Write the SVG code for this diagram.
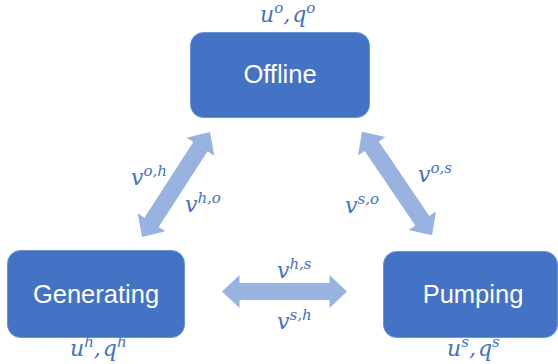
<svg xmlns="http://www.w3.org/2000/svg" width="558" height="364" viewBox="0 0 558 364">
<style>
.box{fill:#4472C4;stroke:#6B93D6;stroke-width:1}
.name{font-family:"Liberation Sans",Arial,sans-serif;font-size:25.5px;fill:#FFFFFF;text-anchor:middle}
.arr{fill:#98B3DF}
.m{font-family:"DejaVu Serif","Liberation Serif",serif;font-style:italic;font-size:22px;fill:#4472C4}
.sup{font-size:15px}
</style>
<defs>
<polygon id="dbl" points="-62.5,0 -45,-16.5 -45,-8.5 45,-8.5 45,-16.5 62.5,0 45,16.5 45,8.5 -45,8.5 -45,16.5"/>
</defs>
<g id="connectors">
<use href="#dbl" class="arr" transform="translate(176,184.5) rotate(-57.1)"/>
<use href="#dbl" class="arr" transform="translate(397,183.5) rotate(55.8)"/>
<use href="#dbl" class="arr" transform="translate(284.5,291.5)"/>
<text class="m" x="131" y="185">v<tspan class="sup" dy="-9">o,h</tspan></text>
<text class="m" x="185" y="212">v<tspan class="sup" dy="-9">h,o</tspan></text>
<text class="m" x="418" y="182">v<tspan class="sup" dy="-9">o,s</tspan></text>
<text class="m" x="345" y="213">v<tspan class="sup" dy="-9">s,o</tspan></text>
<text class="m" x="277" y="278">v<tspan class="sup" dy="-9">h,s</tspan></text>
<text class="m" x="277" y="329">v<tspan class="sup" dy="-9">s,h</tspan></text>
</g>
<g id="offline">
<rect class="box" x="190.5" y="32.5" width="179" height="85" rx="13"/>
<text class="name" x="280" y="83">Offline</text>
<text class="m" x="260" y="22">u<tspan class="sup" dy="-9">o</tspan><tspan dy="9">,</tspan><tspan dx="2">q</tspan><tspan class="sup" dy="-9">o</tspan></text>
</g>
<g id="generating">
<rect class="box" x="7.5" y="250.5" width="177" height="87" rx="13"/>
<text class="name" x="96" y="303">Generating</text>
<text class="m" x="70" y="356">u<tspan class="sup" dy="-9">h</tspan><tspan dy="9">,</tspan><tspan dx="2">q</tspan><tspan class="sup" dy="-9">h</tspan></text>
</g>
<g id="pumping">
<rect class="box" x="383.5" y="251.5" width="174" height="86" rx="13"/>
<text class="name" x="473" y="303">Pumping</text>
<text class="m" x="447" y="356">u<tspan class="sup" dy="-9">s</tspan><tspan dy="9">,</tspan><tspan dx="2">q</tspan><tspan class="sup" dy="-9">s</tspan></text>
</g>
</svg>
